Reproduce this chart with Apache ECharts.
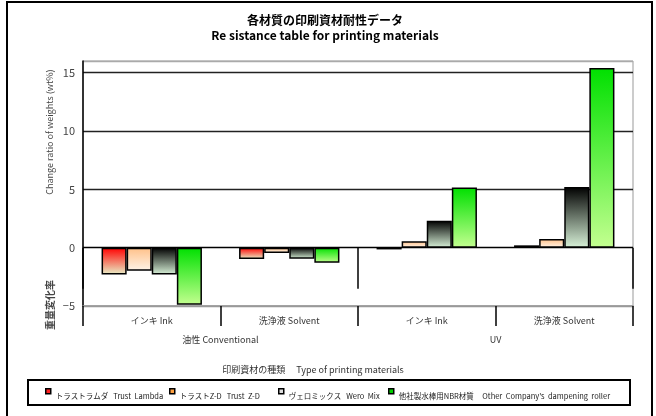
<!DOCTYPE html>
<html><head><meta charset="utf-8">
<script src="https://cdn.jsdelivr.net/npm/echarts@6/dist/echarts.min.js"></script>
<style>html,body{margin:0;padding:0;background:#fff}#c{width:656px;height:416px}</style>
</head><body><div id="c"></div>
<script>
const categories = ['インキ Ink', '洗浄液 Solvent', 'インキ Ink', '洗浄液 Solvent'];
const groups = ['油性 Conventional', 'UV'];
const seriesNames = ['トラストラムダ   Trust  Lambda', 'トラストZ-D   Trust  Z-D', 'ヴェロミックス   Wero  Mix', '他社製水棒用NBR材質     Other  Company\'s  dampening  roller'];
const trustLambda = [-2.3, -0.97, -0.15, 0.2];
const trustZD = [-1.97, -0.45, 0.54, 0.74];
const weroMix = [-2.3, -0.95, 2.3, 5.2];
const otherRoller = [-4.9, -1.3, 5.15, 15.4];
const yTicks = { min: -5, max: 16, interval: 5 };

const FONT = '"Noto Sans CJK JP", "Noto Sans", sans-serif';
const gradients = [
  ['#ff0000', '#e8f0c8'],
  ['#ffc088', '#fff4e8'],
  ['#000000', '#d8f2d8'],
  ['#00e000', '#c4ff90']
];
const markerColors = ['#ff2020', '#ffa040', '#dddddd', '#00d000'];
const allData = [trustLambda, trustZD, weroMix, otherRoller];
const legendX = [45, 169, 278, 388];

const chart = echarts.init(document.getElementById('c'), null, { renderer: 'canvas' });
const series = seriesNames.map((n, i) => ({
  name: n, type: 'bar', xAxisIndex: 0, data: allData[i],
  barGap: '0%', barCategoryGap: '27%',
  itemStyle: {
    color: new echarts.graphic.LinearGradient(0, 0, 0, 1, [
      { offset: 0, color: gradients[i][0] }, { offset: 1, color: gradients[i][1] }]),
    borderColor: '#000', borderWidth: 1.5
  },
  emphasis: { disabled: true }
}));

const option = {
  animation: false,
  textStyle: { fontFamily: FONT },
  title: {
    text: '各材質の印刷資材耐性データ\nRe sistance table for printing materials',
    left: 320, top: 8, textAlign: 'center',
    textStyle: { fontSize: 12, fontWeight: 'bold', color: '#000', lineHeight: 15, fontFamily: FONT }
  },
  legend: seriesNames.map((n, i) => ({
    data: [n], left: legendX[i], top: 388, padding: 0,
    itemWidth: 5, itemHeight: 5, itemGap: 0, icon: 'rect',
    itemStyle: { color: markerColors[i], borderColor: '#000', borderWidth: 1.5 },
    formatter: name => '{t|' + name + '}',
    textStyle: { fontSize: 7.5, color: '#222', fontFamily: FONT,
      rich: { t: { fontSize: 7.5, color: '#222', fontFamily: FONT, padding: [10, 0, 0, 0] } } },
    selectedMode: false
  })),
  grid: { left: 83, right: 23, top: 61, bottom: 110, show: true, borderColor: '#999', borderWidth: 1 },
  xAxis: [{
    type: 'category', data: categories, position: 'bottom',
    axisLine: { onZero: false, lineStyle: { color: '#999', width: 1.5 } },
    axisTick: { show: true, length: 20, interval: 0, lineStyle: { color: '#000', width: 1.5 } },
    axisLabel: { margin: 10, fontSize: 9, color: '#333', interval: 0 }
  }, {
    type: 'category', data: groups, position: 'bottom',
    axisLine: { show: false },
    axisTick: { show: true, length: 41, interval: 0, lineStyle: { color: '#000', width: 1.5 } },
    axisLabel: { margin: 29, fontSize: 9, color: '#333', interval: 0 }
  }],
  yAxis: {
    type: 'value', min: yTicks.min, max: yTicks.max, interval: yTicks.interval,
    axisLine: { show: true, lineStyle: { color: '#000', width: 1.5 } },
    axisTick: { show: false },
    axisLabel: { margin: 8, fontSize: 11, color: '#444', showMaxLabel: false,
      formatter: v => (v === 16 ? '' : String(v).replace('-', '−')) },
    splitLine: { show: true, lineStyle: { color: ['#999', '#000', '#222', '#222', '#222', '#aaa'], width: 1.3 } }
  },
  graphic: [
    { type: 'rect', shape: { x: 7, y: 2, width: 645, height: 430 }, style: { fill: null, stroke: '#000', lineWidth: 2 }, silent: true },
    { type: 'rect', shape: { x: 28, y: 380, width: 602, height: 25 }, style: { fill: null, stroke: '#000', lineWidth: 2 }, silent: true, z: -1 },
    { type: 'text', x: 313, y: 370, style: { text: '印刷資材の種類　 Type of printing materials', font: '9px ' + FONT, fill: '#333', align: 'center', verticalAlign: 'middle' } },
    { type: 'text', x: 50, y: 132, rotation: Math.PI / 2, style: { text: 'Change ratio of weights (wt%)', font: '9px ' + FONT, fill: '#444', align: 'center', verticalAlign: 'middle' } },
    { type: 'text', x: 50, y: 305, rotation: Math.PI / 2, style: { text: '重量変化率', font: 'bold 10px ' + FONT, fill: '#444', align: 'center', verticalAlign: 'middle' } }
  ],
  series: series
};
chart.setOption(option);
</script>
</body></html>
